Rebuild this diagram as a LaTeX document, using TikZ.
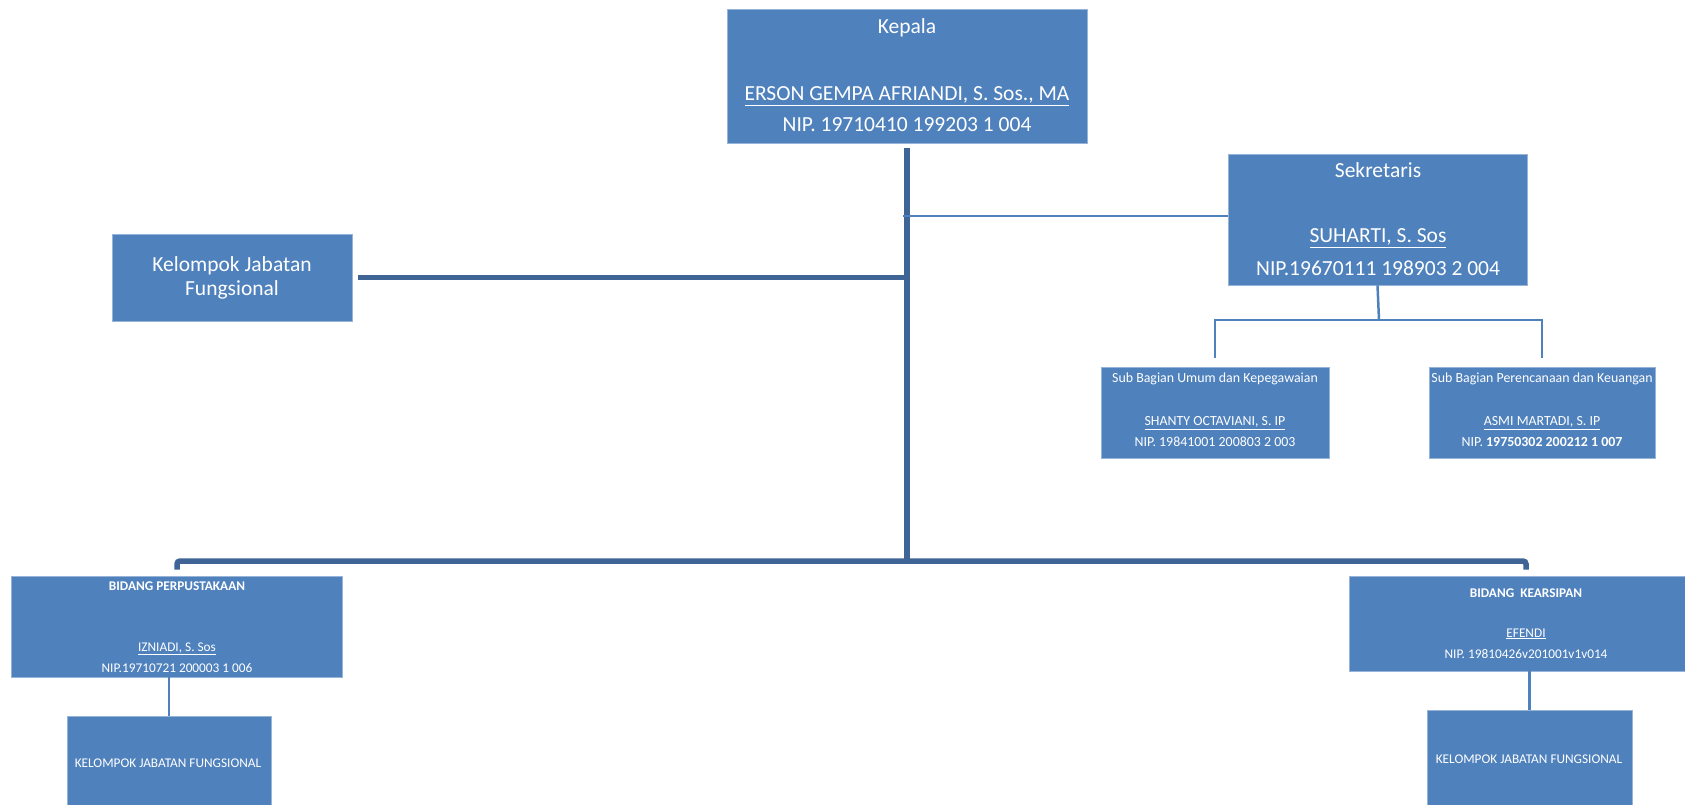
\documentclass[tikz,border=0pt]{standalone}
\usepackage{fontspec}
\setmainfont{Carlito}
\definecolor{boxblue}{RGB}{79,129,189}
\definecolor{linedark}{RGB}{63,100,150}
\definecolor{linelight}{RGB}{79,129,189}
\definecolor{edgeblue}{RGB}{150,180,215}
\newcommand{\bigf}{\fontsize{21.5}{24}\selectfont}
\newcommand{\midf}{\fontsize{13.9}{17}\selectfont}
\newcommand{\smf}{\fontsize{13.3}{16}\selectfont}
\begin{document}
\begin{tikzpicture}[x=1pt,y=-1pt,
  box/.style={draw=edgeblue, line width=0.6pt, fill=boxblue, rectangle, inner sep=0pt},
  txt/.style={text=white, inner sep=0pt, anchor=center, align=center},
  heavyline/.style={draw=linedark, line width=5.5pt},
  lightline/.style={draw=linelight, line width=2pt},
  midline/.style={draw=linelight, line width=2.5pt}]
\useasboundingbox (0,0) rectangle (1685,804);

% boxes
\node[box, minimum width=360pt, minimum height=134pt] (kepala) at (907,76) {};
\node[box, minimum width=299pt, minimum height=131pt] (sek) at (1377.5,219.5) {};
\node[box, minimum width=240pt, minimum height=87pt] (kjf) at (232,277.5) {};
\node[box, minimum width=228pt, minimum height=91pt] (sub1) at (1215,412.5) {};
\node[box, minimum width=226pt, minimum height=91pt] (sub2) at (1542,412.5) {};
\node[box, minimum width=331pt, minimum height=101pt] (bp) at (177,626.5) {};
\node[box, minimum width=354pt, minimum height=95pt] (bk) at (1526,623.5) {};
\node[box, minimum width=204pt, minimum height=92pt] (kl) at (169,762) {};
\node[box, minimum width=205pt, minimum height=98pt] (kr) at (1529.5,759) {};

% texts
\node[txt] (t1) at (907,28) {\bigf Kepala};
\node[txt] (t2) at (907,96) {\bigf \underline{ERSON GEMPA AFRIANDI, S. Sos., MA}};
\node[txt] (t3) at (907,125) {\bigf NIP. 19710410 199203 1 004};

\node[txt] (s1) at (1378,170) {\bigf Sekretaris};
\node[txt] (s2) at (1378,238) {\bigf \underline{SUHARTI, S. Sos}};
\node[txt] (s3) at (1378,268) {\bigf NIP.19670111 198903 2 004};

\node[txt, font=\bigf] (k1) at (232,278) {Kelompok Jabatan\\ Fungsional};

\node[txt] (u1) at (1215,379) {\midf Sub Bagian Umum dan Kepegawaian};
\node[txt] (u2) at (1215,423) {\midf \underline{SHANTY OCTAVIANI, S. IP}};
\node[txt] (u3) at (1215,442) {\midf NIP. 19841001 200803 2 003};

\node[txt] (p1) at (1542,379) {\midf Sub Bagian Perencanaan dan Keuangan};
\node[txt] (p2) at (1542,423) {\midf \underline{ASMI MARTADI, S. IP}};
\node[txt] (p3) at (1542,442) {\midf NIP. \textbf{19750302 200212 1 007}};

\node[txt] (b1) at (177,586) {\smf\bfseries BIDANG PERPUSTAKAAN};
\node[txt] (b2) at (177,649) {\smf \underline{IZNIADI, S. Sos}};
\node[txt] (b3) at (177,668) {\smf NIP.19710721 200003 1 006};

\node[txt] (a1) at (1526,593) {\smf\bfseries BIDANG\ \ KEARSIPAN};
\node[txt] (a2) at (1526,634) {\smf \underline{EFENDI}};
\node[txt] (a3) at (1526,654) {\smf NIP. 19810426v201001v1v014};

\node[txt] (l1) at (168,763) {\smf KELOMPOK JABATAN FUNGSIONAL};
\node[txt] (r1) at (1529,759) {\smf KELOMPOK JABATAN FUNGSIONAL};

% connectors
\coordinate (jb) at (907,561);
\coordinate (js) at (903,216);
\coordinate (jsek) at (1379,320);
\draw[heavyline] ([yshift=-5pt]kepala.south) -- (jb);
\draw[lightline] (js) -- (js -| sek.west);
\draw[heavyline] ([xshift=6pt]kjf.east) -- (kjf.east -| jb);
\draw[midline] (sek.south) -- (jsek);
\draw[midline] ([yshift=9pt]sub1.north) |- (jsek) -| ([yshift=9pt]sub2.north);
\draw[heavyline, rounded corners=3pt] ([yshift=6pt]bp.north) |- (jb) -| ([yshift=6pt]bk.north);
\draw[midline] (kl.north |- bp.south) -- (kl.north);
\draw[midline] (kr.north |- bk.south) -- (kr.north);
\end{tikzpicture}
\end{document}
